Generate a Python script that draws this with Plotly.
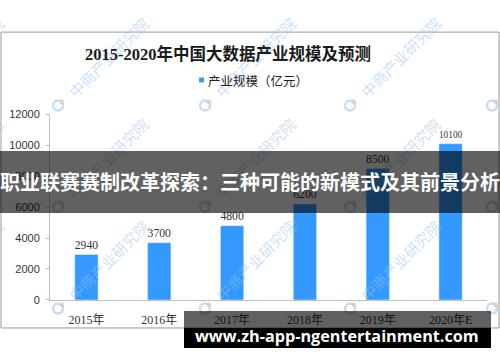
import plotly.graph_objects as go

# ---- data ----
years = ["2015年", "2016年", "2017年", "2018年", "2019年", "2020年E"]
scale = [2940, 3700, 4800, 6200, 8500, 10100]
y_ticks = [0, 2000, 4000, 6000, 8000, 10000, 12000]
title_text = "2015-2020年中国大数据产业规模及预测"
legend_text = "产业规模（亿元）"
banner_text = "职业联赛赛制改革探索：三种可能的新模式及其前景分析"
footer_text = "www.zh-app-ngentertainment.com"
watermark_text = "中商产业研究院"

W, H = 500, 362
def px(x):
    return x / W
def py(y):
    return 1 - y / H

wm_rows = (103, 208, 313)
wm_cols = (-87, 58, 205, 350, 492)

fig = go.Figure()

fig.add_trace(go.Bar(
    x=years, y=scale,
    marker=dict(color="#3399FF"), width=0.32,
    text=[str(v) for v in scale], textposition="outside",
    textfont=dict(family="Liberation Serif, Noto Sans CJK SC", size=12, color="#333333"),
    cliponaxis=False, showlegend=False, name=legend_text,
))

# watermark logos on a full-page helper subplot
lx_list, ly_list = [], []
for ly in wm_rows:
    for lx in wm_cols:
        lx_list.append(lx)
        ly_list.append(ly)
fig.add_trace(go.Scatter(
    x=lx_list, y=ly_list, mode="markers", xaxis="x2", yaxis="y2",
    marker=dict(symbol="circle-open", size=10, color="rgba(150,195,235,0.55)",
                line=dict(width=2.5, color="rgba(150,195,235,0.55)")),
    hoverinfo="skip", showlegend=False,
))
fig.add_trace(go.Scatter(
    x=[v + 4 for v in lx_list], y=[v - 4 for v in ly_list], mode="markers", xaxis="x2", yaxis="y2",
    marker=dict(symbol="circle", size=5, color="rgba(245,180,140,0.5)", line=dict(width=0)),
    hoverinfo="skip", showlegend=False,
))

fig.update_layout(
    width=W, height=H,
    margin=dict(l=0, r=0, t=0, b=0),
    paper_bgcolor="white", plot_bgcolor="rgba(0,0,0,0)",
    xaxis=dict(domain=[px(50), px(487)], showline=True, linecolor="#bfbfbf",
               linewidth=1, ticks="", showgrid=False, zeroline=False, ticklabelstandoff=9,
               tickfont=dict(family="Liberation Serif, Noto Sans CJK SC", size=12, color="#333333")),
    yaxis=dict(domain=[py(304), py(112)], range=[0, 12000], tickvals=y_ticks, tickformat="d",
               showline=True, linecolor="#bfbfbf", linewidth=1, ticks="outside", ticklen=3,
               tickcolor="#bfbfbf", showgrid=False, zeroline=False, ticklabelstandoff=4,
               tickfont=dict(family="Liberation Sans, Arial", size=11, color="#333333")),
    xaxis2=dict(domain=[px(2), px(498)], range=[2, 498], visible=False, fixedrange=True, anchor="y2"),
    yaxis2=dict(domain=[py(332), py(28)], range=[332, 28], visible=False, fixedrange=True, anchor="x2"),
)

shapes = [
    # chart frame
    dict(type="rect", xref="paper", yref="paper", x0=px(1), x1=px(499), y0=py(333), y1=py(27),
         line=dict(color="#999999", width=1), fillcolor="rgba(0,0,0,0)", layer="below"),
    # legend swatch
    dict(type="rect", xref="paper", yref="paper", x0=px(199), x1=px(204), y0=py(79), y1=py(74),
         line=dict(width=0), fillcolor="#3399FF"),
]
fig.update_layout(shapes=shapes)

annotations = []
# watermarks (rotated text, drawn first so later boxes cover them)
for ly in wm_rows:
    for lx in wm_cols:
        annotations.append(dict(
            text=watermark_text, x=px(lx + 50), y=py(ly - 50), xref="paper", yref="paper",
            showarrow=False, textangle=-45, xanchor="center", yanchor="middle",
            font=dict(family="Noto Sans CJK SC", size=15, color="rgba(150,195,235,0.5)")))

annotations += [
    dict(text="<b>" + title_text + "</b>", x=px(228), y=py(50), xref="paper", yref="paper",
         showarrow=False, xanchor="center", yanchor="middle",
         font=dict(family="Liberation Serif, Noto Sans CJK SC", size=16.5, color="#1a1a1a")),
    dict(text=legend_text, x=px(206), y=py(77), xref="paper", yref="paper",
         showarrow=False, xanchor="left", yanchor="middle",
         font=dict(family="Noto Sans CJK SC", size=12.5, color="#222222")),
    # banner box
    dict(text=" ", x=0, y=py(150), xref="paper", yref="paper", showarrow=False,
         xanchor="left", yanchor="top", width=W, height=62, borderpad=0, borderwidth=0,
         bgcolor="rgba(0,0,0,0.62)"),
    # footer boxes
    dict(text=" ", x=px(184), y=py(315), xref="paper", yref="paper", showarrow=False,
         xanchor="left", yanchor="top", width=307, height=18, borderpad=0, borderwidth=0,
         bgcolor="rgba(0,0,0,0.62)"),
    dict(text=" ", x=px(184), y=py(333), xref="paper", yref="paper", showarrow=False,
         xanchor="left", yanchor="top", width=307, height=20, borderpad=0, borderwidth=0,
         bgcolor="black"),
    dict(text="<b>" + banner_text + "</b>", x=0.5, y=py(181), xref="paper", yref="paper",
         showarrow=False, xanchor="center", yanchor="middle",
         font=dict(family="Noto Sans CJK SC", size=20, color="white")),
    dict(text="<b>" + footer_text + "</b>", x=px(336.5), y=py(341), xref="paper", yref="paper",
         showarrow=False, xanchor="center", yanchor="middle",
         font=dict(family="Open Sans, Noto Sans", size=16.2, color="white")),
]
fig.update_layout(annotations=annotations)

fig.write_html("out.html")
